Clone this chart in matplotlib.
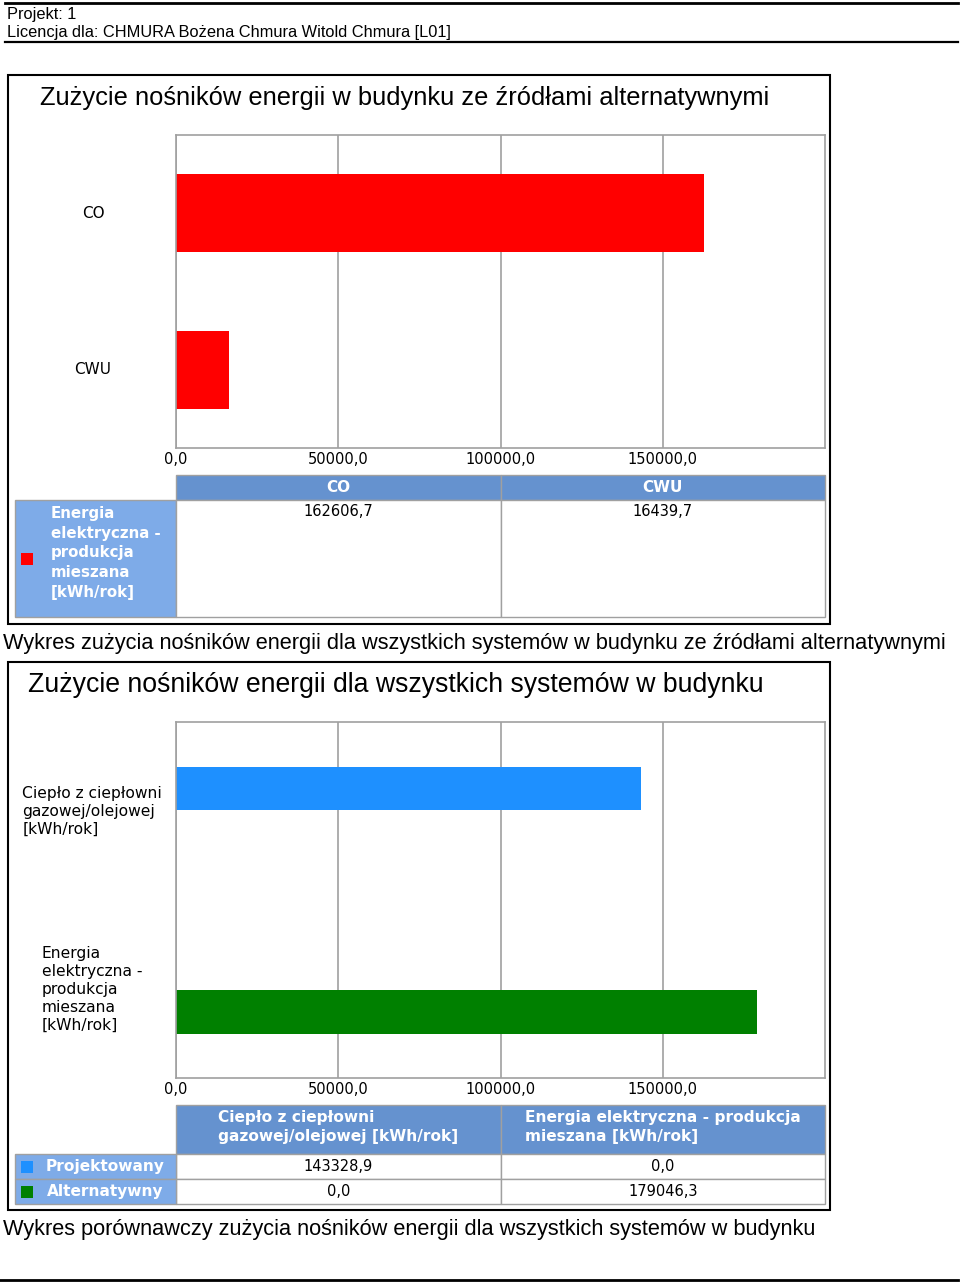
import matplotlib
matplotlib.use("Agg")
import matplotlib.pyplot as plt
from matplotlib.patches import Rectangle
from matplotlib.transforms import blended_transform_factory

# ---------------- data ----------------
header_lines = ["Projekt: 1", "Licencja dla: CHMURA Bożena Chmura Witold Chmura [L01]"]

title1 = "Zużycie nośników energii w budynku ze źródłami alternatywnymi"
categories1 = ["CO", "CWU"]
series1_name = "Energia\nelektryczna -\nprodukcja\nmieszana\n[kWh/rok]"
values1 = [162606.7, 16439.7]
value_labels1 = ["162606,7", "16439,7"]
caption1 = "Wykres zużycia nośników energii dla wszystkich systemów w budynku ze źródłami alternatywnymi"

title2 = "Zużycie nośników energii dla wszystkich systemów w budynku"
categories2 = ["Ciepło z ciepłowni\ngazowej/olejowej\n[kWh/rok]",
               "Energia\nelektryczna -\nprodukcja\nmieszana\n[kWh/rok]"]
table_headers2 = ["Ciepło z ciepłowni\ngazowej/olejowej [kWh/rok]",
                  "Energia elektryczna - produkcja\nmieszana [kWh/rok]"]
series2_names = ["Projektowany", "Alternatywny"]
values2_proj = [143328.9, 0.0]
values2_alt = [0.0, 179046.3]
value_labels2_proj = ["143328,9", "0,0"]
value_labels2_alt = ["0,0", "179046,3"]
caption2 = "Wykres porównawczy zużycia nośników energii dla wszystkich systemów w budynku"

xticks = [0, 50000, 100000, 150000]
xtick_labels = ["0,0", "50000,0", "100000,0", "150000,0"]
xmax = 200000

# ---------------- style ----------------
W, H = 960, 1284
RED = "#ff0000"
BLUE = "#1e90ff"
GREEN = "#008000"
HDR = "#6592cf"
LBL = "#7eabe8"
GRID = "#a0a0a0"
SANS = "Liberation Sans"
UI = "DejaVu Sans"

fig = plt.figure(figsize=(W / 100, H / 100), dpi=100)
bg = fig.add_axes([0, 0, 1, 1])
bg.set_xlim(0, W)
bg.set_ylim(H, 0)
bg.axis("off")


def px_axes(x0, y0, x1, y1):
    return fig.add_axes([x0 / W, 1 - y1 / H, (x1 - x0) / W, (y1 - y0) / H])


def rect(x0, y0, x1, y1, fc="none", ec="none", lw=1.0, z=1):
    bg.add_patch(Rectangle((x0, y0), x1 - x0, y1 - y0, facecolor=fc,
                           edgecolor=ec, linewidth=lw, zorder=z))


# header
bg.plot([5, 958], [3, 3], color="black", lw=2)
bg.text(7, 14, header_lines[0], fontsize=11.8, family=SANS, va="center")
bg.text(7, 32, header_lines[1], fontsize=11.8, family=SANS, va="center")
bg.plot([5, 958], [42, 42], color="black", lw=1.6)
bg.plot([0, 958], [1280, 1280], color="black", lw=2)


def setup_axes(ax):
    ax.set_xlim(0, xmax)
    ax.set_xticks(xticks)
    ax.set_xticklabels(xtick_labels, family=UI, fontsize=10.5)
    ax.tick_params(axis="x", length=0, pad=3)
    ax.tick_params(axis="y", length=0, labelleft=False)
    ax.grid(axis="x", color=GRID, lw=1.2)
    ax.set_axisbelow(True)
    for s in ax.spines.values():
        s.set_color(GRID)
        s.set_linewidth(1.2)


# ================= chart 1 =================
rect(8, 75, 830, 624, ec="black", lw=1.5, z=0)
bg.text(40, 98, title1, fontsize=18.4, family=SANS, va="center")

ax1 = px_axes(176, 135, 825, 448)
pos1 = list(range(len(categories1)))
ax1.barh(pos1, values1, height=0.5, color=RED)
ax1.set_ylim(len(categories1) - 0.5, -0.5)
ax1.set_yticks(pos1)
setup_axes(ax1)
tr1 = blended_transform_factory(bg.transData, ax1.transData)
for p, c in zip(pos1, categories1):
    ax1.text(93, p, c, transform=tr1, ha="center", va="center",
             family=UI, fontsize=11, multialignment="left")

# table 1
n1 = len(categories1)
cw1 = (825 - 176) / n1
rect(15, 500, 176, 617, fc=LBL, ec=GRID, lw=1)
for i, c in enumerate(categories1):
    x0 = 176 + i * cw1
    rect(x0, 475, x0 + cw1, 500, fc=HDR, ec=GRID, lw=1)
    rect(x0, 500, x0 + cw1, 617, fc="white", ec=GRID, lw=1)
    bg.text(x0 + cw1 / 2, 487, c, ha="center", va="center", color="white",
            family=UI, fontsize=11, fontweight="bold")
    bg.text(x0 + cw1 / 2, 511, value_labels1[i], ha="center", va="center",
            family=UI, fontsize=10.5)
rect(21, 553, 33, 565, fc=RED, z=3)
bg.text(51, 553, series1_name, ha="left", va="center", color="white",
        family=UI, fontsize=10.8, fontweight="bold", linespacing=1.38)

bg.text(3, 643, caption1, fontsize=15.7, family=SANS, va="center")

# ================= chart 2 =================
rect(8, 662, 830, 1210, ec="black", lw=1.5, z=0)
bg.text(28, 685, title2, fontsize=19.2, family=SANS, va="center")

ax2 = px_axes(176, 722, 825, 1078)
pos2 = list(range(len(categories2)))
ax2.barh([p - 0.1275 for p in pos2], values2_proj, height=0.245, color=BLUE)
ax2.barh([p + 0.1275 for p in pos2], values2_alt, height=0.245, color=GREEN)
ax2.set_ylim(len(categories2) - 0.5, -0.5)
ax2.set_yticks(pos2)
setup_axes(ax2)
tr2 = blended_transform_factory(bg.transData, ax2.transData)
for p, c in zip(pos2, categories2):
    ax2.text(92, p, c, transform=tr2, ha="center", va="center",
             family=UI, fontsize=11.2, multialignment="left", linespacing=1.25)

# table 2
n2 = len(categories2)
cw2 = (825 - 176) / n2
rows = [(1154, 1179), (1179, 1204)]
marker_cols = [BLUE, GREEN]
row_vals = [value_labels2_proj, value_labels2_alt]
for i, h in enumerate(table_headers2):
    x0 = 176 + i * cw2
    rect(x0, 1105, x0 + cw2, 1154, fc=HDR, ec=GRID, lw=1)
    bg.text(x0 + cw2 / 2, 1127, h, ha="center", va="center", color="white",
            family=UI, fontsize=11.1, fontweight="bold",
            multialignment="left", linespacing=1.35)
    for r, (y0, y1) in enumerate(rows):
        rect(x0, y0, x0 + cw2, y1, fc="white", ec=GRID, lw=1)
        bg.text(x0 + cw2 / 2, (y0 + y1) / 2, row_vals[r][i], ha="center",
                va="center", family=UI, fontsize=10.5)
for r, (y0, y1) in enumerate(rows):
    rect(15, y0, 176, y1, fc=LBL, ec=GRID, lw=1)
    yc = (y0 + y1) / 2
    rect(21, yc - 6, 33, yc + 6, fc=marker_cols[r], z=3)
    bg.text(105, yc, series2_names[r], ha="center", va="center", color="white",
            family=UI, fontsize=11.1, fontweight="bold")

bg.text(3, 1229, caption2, fontsize=15.7, family=SANS, va="center")

fig.savefig("out.png", dpi=100)
